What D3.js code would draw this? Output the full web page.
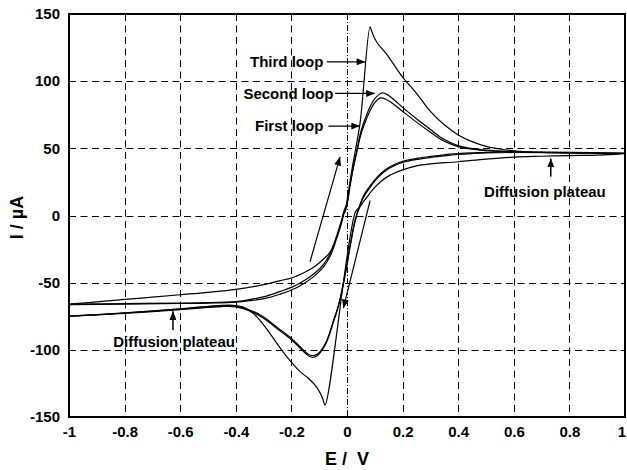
<!DOCTYPE html>
<html>
<head>
<meta charset="utf-8">
<script src="https://cdn.jsdelivr.net/npm/d3@7"></script>
<style>
body { margin: 0; background: #fff; }
svg { display: block; font-family: "Liberation Sans", Arial, Helvetica, sans-serif; }
</style>
</head>
<body>
<svg id="chart" width="627" height="470"></svg>
<script>
// axis ticks
const eTicks = [-1, -0.8, -0.6, -0.4, -0.2, 0, 0.2, 0.4, 0.6, 0.8, 1];
const iTicks = [-150, -100, -50, 0, 50, 100, 150];

// loops: [E (V), I (uA)], anodic sweep -1 -> 1 then cathodic sweep 1 -> -1
const firstLoop = [
    [-1, -66], [-0.8, -65.6], [-0.6, -65.2], [-0.5, -64.9], [-0.4, -64], [-0.35, -62.6],
    [-0.29, -60], [-0.24, -56.5], [-0.2, -53.5], [-0.17, -50.5], [-0.12, -43.5], [-0.085, -36.5],
    [-0.06, -28], [-0.037, -15], [-0.02, -4], [-0.01, 4], [0, 9], [0.011, 23], [0.023, 36],
    [0.035, 47], [0.047, 58], [0.06, 66.5], [0.083, 78], [0.1, 84], [0.12, 87.5], [0.14, 86.5],
    [0.17, 82.5], [0.2, 77.5], [0.25, 69.5], [0.3, 62], [0.335, 57], [0.37, 53.5], [0.4, 51.3],
    [0.45, 49.3], [0.5, 48.2], [0.6, 47.3], [0.8, 46.6], [1, 46.2],
    [0.8, 46.6], [0.6, 46.9], [0.5, 46.6], [0.45, 46.1], [0.4, 45.4], [0.35, 44.4], [0.3, 43.2],
    [0.26, 42], [0.2, 39.5], [0.17, 37], [0.14, 33.5], [0.11, 28], [0.083, 21], [0.059, 13.5],
    [0.045, 6], [0.035, 0], [0.025, -8], [0.015, -19], [0.007, -28], [0, -37], [-0.012, -50],
    [-0.025, -63], [-0.037, -72], [-0.05, -80], [-0.062, -88], [-0.075, -95], [-0.09, -100.5],
    [-0.105, -104], [-0.12, -105.5], [-0.135, -105], [-0.15, -102.5], [-0.17, -98.5],
    [-0.2, -92.5], [-0.25, -84.5], [-0.3, -76.5], [-0.35, -71], [-0.4, -68], [-0.45, -67.8],
    [-0.5, -68.5], [-0.6, -70], [-0.7, -71.5], [-0.8, -72.8], [-0.9, -74], [-1, -75]
];

const secondLoop = [
    [-1, -66.4], [-0.8, -66], [-0.6, -65.5], [-0.5, -65.2], [-0.4, -64.5], [-0.35, -63.4],
    [-0.29, -61.5], [-0.24, -58.5], [-0.2, -55.5], [-0.17, -52.5], [-0.12, -45.5], [-0.085, -38.5],
    [-0.06, -30], [-0.037, -17], [-0.02, -6], [-0.01, 2], [0, 8], [0.011, 22], [0.023, 36],
    [0.035, 48], [0.047, 60], [0.06, 69], [0.083, 81], [0.1, 87], [0.125, 91.2], [0.145, 90],
    [0.17, 86], [0.2, 80.5], [0.25, 72], [0.3, 64], [0.335, 58.5], [0.37, 54.5], [0.4, 52],
    [0.45, 49.8], [0.5, 48.6], [0.6, 47.6], [0.8, 46.9], [1, 46.5],
    [0.8, 47], [0.6, 47.3], [0.5, 47], [0.45, 46.6], [0.4, 46], [0.35, 45.2], [0.3, 44],
    [0.26, 42.8], [0.2, 40.3], [0.17, 38], [0.14, 34.5], [0.11, 29], [0.083, 22], [0.059, 14.5],
    [0.045, 7], [0.035, 1], [0.025, -7], [0.015, -18], [0.007, -27], [0, -36], [-0.012, -49],
    [-0.025, -62], [-0.037, -71], [-0.05, -79], [-0.062, -87], [-0.075, -94], [-0.09, -99.5],
    [-0.105, -103], [-0.12, -104.3], [-0.135, -103.8], [-0.15, -101.5], [-0.17, -97.5],
    [-0.2, -91.5], [-0.25, -83.5], [-0.3, -75.5], [-0.35, -70.3], [-0.4, -67.5], [-0.45, -67.3],
    [-0.5, -68], [-0.6, -69.6], [-0.7, -71.2], [-0.8, -72.5], [-0.9, -73.8], [-1, -74.8]
];

const thirdLoop = [
    [-1, -66], [-0.9, -64.3], [-0.8, -62.5], [-0.7, -60.8], [-0.6, -59], [-0.5, -57.2],
    [-0.4, -55], [-0.3, -51.5], [-0.24, -48.5], [-0.2, -46.5], [-0.15, -42], [-0.12, -38.5],
    [-0.09, -33.5], [-0.06, -27], [-0.037, -16], [-0.019, -3.5], [-0.012, 1.5], [-0.006, 3],
    [0, 11], [0.02, 37], [0.047, 69], [0.083, 140.5], [0.09, 136.5], [0.107, 129],
    [0.143, 120], [0.2, 103], [0.25, 91], [0.3, 77.5], [0.35, 67.5], [0.4, 60], [0.45, 55],
    [0.5, 51.5], [0.55, 49.5], [0.62, 47.8], [0.7, 47], [0.8, 46.5], [1, 46],
    [0.9, 45], [0.8, 44.6], [0.7, 44.1], [0.6, 43.5], [0.5, 42], [0.4, 40], [0.3, 38.4],
    [0.25, 37], [0.2, 34], [0.15, 29.5], [0.12, 25], [0.1, 21], [0.08, 16], [0.06, 10.5],
    [0.045, 6], [0.03, 2.5], [-0.079, -141], [-0.088, -136], [-0.097, -132], [-0.11, -127.5],
    [-0.14, -121], [-0.17, -116], [-0.205, -108], [-0.23, -101.5], [-0.253, -95],
    [-0.28, -87], [-0.313, -78], [-0.34, -72.5], [-0.373, -68.2], [-0.41, -66.8],
    [-0.5, -67.6], [-0.6, -69.5], [-0.8, -72.6], [-1, -75.2]
];

// annotations, in data units
const loopLabels = [
    { text: "Third loop",  tx: -0.085, from: -0.073, to: 0.066, i: 114.4 },
    { text: "Second loop", tx: -0.049, from: -0.043, to: 0.100, i: 90.9 },
    { text: "First loop",  tx: -0.085, from: -0.067, to: 0.047, i: 66.6 }
];
const plateauLabels = [
    { text: "Diffusion plateau", e: 0.712, ti: 17.5, ae: 0.733, from: 28.9, to: 42.5 },
    { text: "Diffusion plateau", e: -0.622, ti: -93.9, ae: -0.626, from: -85.2, to: -71.3 }
];
const sweepArrows = [
    { e0: -0.133, i0: -34.4, e1: -0.025, i1: 43.7 },
    { e0: 0.083, i0: 11, e1: -0.013, i1: -69 }
];

const svg = d3.select("#chart");
const margin = { top: 14, right: 2, bottom: 53, left: 69 };
const width = +svg.attr("width") - margin.left - margin.right;
const height = +svg.attr("height") - margin.top - margin.bottom;

const x = d3.scaleLinear().domain([-1, 1]).range([0, width]);
const y = d3.scaleLinear().domain([-150, 150]).range([height, 0]);

const g = svg.append("g").attr("transform", `translate(${margin.left},${margin.top})`);

svg.append("defs").append("marker")
    .attr("id", "head")
    .attr("markerUnits", "userSpaceOnUse")
    .attr("viewBox", "0 0 10 8")
    .attr("refX", 10).attr("refY", 4)
    .attr("markerWidth", 9).attr("markerHeight", 7)
    .attr("orient", "auto")
    .append("path").attr("d", "M0,0 L10,4 L0,8 Z").attr("fill", "#000");

// grid
g.append("g").selectAll("line")
    .data(eTicks.filter(d => d > -1 && d < 1))
    .enter().append("line")
    .attr("x1", d => Math.round(x(d)) + 0.5).attr("x2", d => Math.round(x(d)) + 0.5)
    .attr("y1", 0).attr("y2", height)
    .attr("stroke", "#000").attr("stroke-width", 1)
    .attr("stroke-dasharray", d => d === 0 ? "6,2,1,2" : "7,4.5");

g.append("g").selectAll("line")
    .data(iTicks.filter(d => d > -150 && d < 150))
    .enter().append("line")
    .attr("x1", 0).attr("x2", width)
    .attr("y1", d => Math.round(y(d)) + 0.5).attr("y2", d => Math.round(y(d)) + 0.5)
    .attr("stroke", "#000").attr("stroke-width", 1)
    .attr("stroke-dasharray", "7,4.5");

// curves
const line = d3.line()
    .x(d => x(d[0]))
    .y(d => y(d[1]))
    .curve(d3.curveCatmullRom.alpha(0.5));

g.append("g")
    .attr("fill", "none")
    .attr("stroke", "#000")
    .attr("stroke-width", 1.2)
    .selectAll("path")
    .data([firstLoop, secondLoop, thirdLoop])
    .enter().append("path")
    .attr("d", line);

// frame
g.append("rect")
    .attr("width", width).attr("height", height)
    .attr("fill", "none").attr("stroke", "#000").attr("stroke-width", 2);

// axes (plain hyphen for minus, like the original)
const fmt = d => String(+d.toFixed(1));
const xAxis = g.append("g")
    .attr("transform", `translate(0,${height})`)
    .call(d3.axisBottom(x).tickValues(eTicks).tickSize(0).tickPadding(9).tickFormat(fmt));
const yAxis = g.append("g")
    .call(d3.axisLeft(y).tickValues(iTicks).tickSize(0).tickPadding(9).tickFormat(fmt));
[xAxis, yAxis].forEach(a => {
    a.select(".domain").remove();
    a.selectAll("text")
        .attr("fill", "#000")
        .style("font-family", "'Liberation Sans', Arial, sans-serif")
        .style("font-size", "15px")
        .style("font-weight", "bold");
});
// last x label sits on the right edge
xAxis.selectAll(".tick text").filter(d => d === 1)
    .attr("text-anchor", "end").attr("dx", "0.5px");

// axis titles
svg.append("text")
    .attr("transform", `translate(17,${margin.top + y(0) + 2}) rotate(-90)`)
    .attr("text-anchor", "middle")
    .attr("dy", "0.35em")
    .style("font-size", "18px").style("font-weight", "bold")
    .text("I / µA");

svg.append("text")
    .attr("x", margin.left + x(0))
    .attr("y", 464.5)
    .attr("text-anchor", "middle")
    .style("font-size", "18px").style("font-weight", "bold")
    .style("white-space", "pre")
    .text("E /  V");

// annotations
const ann = g.append("g").style("font-size", "15px").style("font-weight", "bold");

loopLabels.forEach(d => {
    ann.append("text")
        .attr("x", x(d.tx)).attr("y", y(d.i))
        .attr("dy", "0.35em")
        .attr("text-anchor", "end")
        .text(d.text);
    ann.append("line")
        .attr("x1", x(d.from)).attr("x2", x(d.to))
        .attr("y1", y(d.i)).attr("y2", y(d.i))
        .attr("stroke", "#000").attr("stroke-width", 1.2)
        .attr("marker-end", "url(#head)");
});

plateauLabels.forEach(d => {
    ann.append("text")
        .attr("x", x(d.e)).attr("y", y(d.ti))
        .attr("dy", "0.35em")
        .attr("text-anchor", "middle")
        .text(d.text);
    ann.append("line")
        .attr("x1", x(d.ae)).attr("x2", x(d.ae))
        .attr("y1", y(d.from)).attr("y2", y(d.to))
        .attr("stroke", "#000").attr("stroke-width", 1.5)
        .attr("marker-end", "url(#head)");
});

ann.selectAll("line.sweep")
    .data(sweepArrows)
    .enter().append("line")
    .attr("class", "sweep")
    .attr("x1", d => x(d.e0)).attr("y1", d => y(d.i0))
    .attr("x2", d => x(d.e1)).attr("y2", d => y(d.i1))
    .attr("stroke", "#000").attr("stroke-width", 1.2)
    .attr("marker-end", "url(#head)");
</script>
</body>
</html>
